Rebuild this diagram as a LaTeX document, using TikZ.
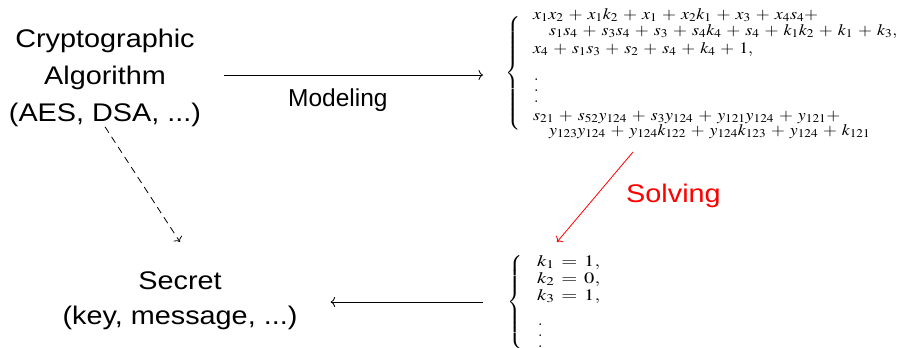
\documentclass[tikz,border=0pt]{standalone}
\usepackage{mathptmx}
\usepackage{exscale}
\usepackage{graphicx}
\usepackage[no-math]{fontspec}
\newfontfamily\hvwide[FakeStretch=1.13]{Liberation Sans}
\newfontfamily\hvnorm{Liberation Sans}
\usetikzlibrary{arrows.meta}
\newcommand\myvdots{\vbox{\baselineskip10.7pt\lineskiplimit0pt\hbox{$.$}\hbox{$.$}\hbox{$.$}}}
\newcommand\eqw[2]{\resizebox{#1}{\height}{\medmuskip=5mu\thickmuskip=6mu$#2$}}
\tikzset{
  biglabel/.style={inner sep=0pt, align=center, font=\hvwide\fontsize{25.5}{37}\selectfont},
  seclabel/.style={inner sep=0pt, align=center, font=\hvwide\fontsize{25.5}{35}\selectfont},
  arrlabel/.style={inner sep=0pt, anchor=base west, font=\hvnorm\fontsize{24.5}{28}\selectfont},
  eqrow/.style={inner sep=0pt, anchor=base west, font=\fontsize{16}{16}\selectfont},
  bracenode/.style={inner sep=0pt, font=\fontsize{16}{16}\selectfont},
  arr/.style={line width=0.8pt, -{To[length=4.5pt,width=10pt]}},
  dasharr/.style={arr, dash pattern=on 7pt off 5pt},
}
\begin{document}
\begin{tikzpicture}[x=1pt,y=-1pt]
\useasboundingbox (0,0) rectangle (900,348);
% labels
\node[biglabel] (crypto) at (105,77.7) {Cryptographic\\Algorithm\\(AES, DSA, ...)};
\node[seclabel] (secret) at (180,301) {Secret\\(key, message, ...)};
\node[arrlabel] (model) at (288,106.5) {Modeling};
\node[arrlabel, font=\hvwide\fontsize{25.5}{28}\selectfont, text=red] (solve) at (626,202) {Solving};
% top system
\node[bracenode] (braceA) at (513.5,73.5) {$\left\{\vcenter{\hbox{\rule{0pt}{114pt}}}\right.$};
\node[eqrow] (a1) at (533,19.3) {\eqw{285pt}{x_1x_2 + x_1k_2 + x_1 + x_2k_1 + x_3 + x_4s_4+}};
\node[eqrow] (a2) at (549,35.5) {\eqw{348pt}{s_1s_4 + s_3s_4 + s_3 + s_4k_4 + s_4 + k_1k_2 + k_1 + k_3,}};
\node[eqrow] (a3) at (533,53) {\eqw{220pt}{x_4 + s_1s_3 + s_2 + s_4 + k_4 + 1,}};
\node[eqrow] (a4) at (534,102) {\myvdots};
\node[eqrow] (a5) at (533,120) {\eqw{307pt}{s_{21} + s_{52}y_{124} + s_3y_{124} + y_{121}y_{124} + y_{121}+}};
\node[eqrow] (a6) at (549,135.5) {\eqw{321pt}{y_{123}y_{124} + y_{124}k_{122} + y_{124}k_{123} + y_{124} + k_{121}}};
% bottom system
\node[bracenode] (braceB) at (516,302) {$\left\{\vcenter{\hbox{\rule{0pt}{96pt}}}\right.$};
\node[eqrow] (b1) at (537,266) {\eqw{63pt}{k_1 = 1,}};
\node[eqrow] (b2) at (537,283) {\eqw{63pt}{k_2 = 0,}};
\node[eqrow] (b3) at (537,300) {\eqw{63pt}{k_3 = 1,}};
\node[eqrow] (b4) at (538,347) {\myvdots};
% connector ends
\coordinate (modEnd) at (483,75);
\coordinate (dashEnd) at (180,242);
\coordinate (solA) at (633,152);
\coordinate (solB) at (557,242);
\coordinate (keyStart) at (483,302);
% connectors
\draw[arr, shorten <=23pt] ([yshift=2.7pt]crypto.east) -- (modEnd);
\draw[dasharr] (crypto.south) -- (dashEnd);
\draw[arr, red] (solA) -- (solB);
\draw[arr, shorten >=33pt] (keyStart) -- (keyStart -| secret.east);
\end{tikzpicture}
\end{document}
